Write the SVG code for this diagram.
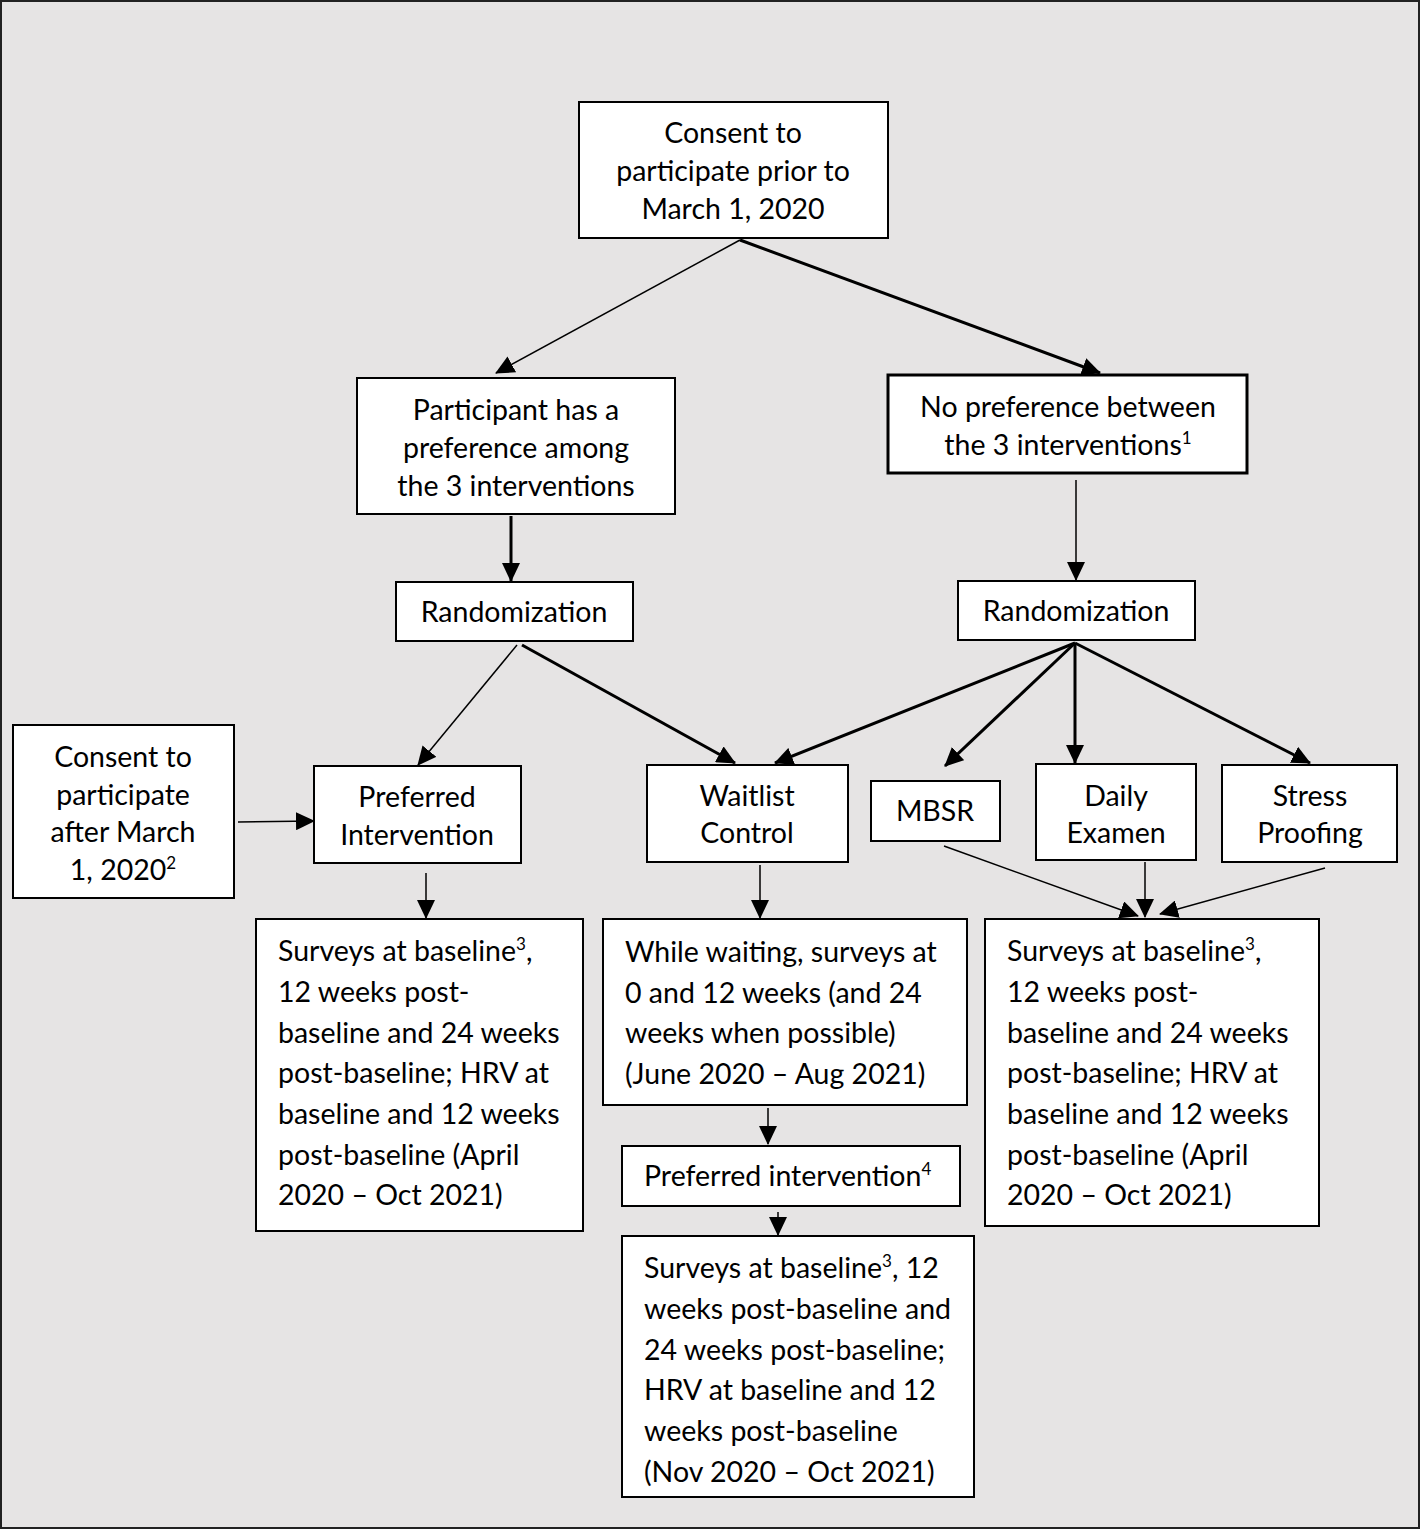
<svg xmlns="http://www.w3.org/2000/svg" width="1420" height="1529" viewBox="0 0 1420 1529">
<defs>
<marker id="ah" markerUnits="userSpaceOnUse" markerWidth="20" markerHeight="18" refX="18" refY="9" orient="auto">
<path d="M0,0 L19,9 L0,18 Z" fill="#000"/>
</marker>
</defs>
<style>
.box{fill:#fff;stroke:#000;stroke-width:2}
.thick{stroke-width:3}
text{font-family:Lato,"Open Sans","Liberation Sans",sans-serif;font-size:28.5px;fill:#000}
.c{text-anchor:middle}
.sup{font-size:17px}
.thin{stroke:#000;stroke-width:1.5;fill:none;marker-end:url(#ah)}
.bold{stroke:#000;stroke-width:3;fill:none;marker-end:url(#ah)}
</style>
<rect x="1" y="1" width="1418" height="1527" fill="#e6e4e4" stroke="#222" stroke-width="2"/>

<g id="connectors">
<line class="thin" x1="740" y1="240" x2="496" y2="373"/>
<line class="bold" x1="740" y1="240" x2="1100" y2="373"/>
<line class="bold" x1="511" y1="516" x2="511" y2="581"/>
<line class="thin" x1="1076" y1="480" x2="1076" y2="580"/>
<line class="thin" x1="517" y1="645" x2="418" y2="765"/>
<line class="bold" x1="522" y1="645" x2="735" y2="763"/>
<line class="bold" x1="1075" y1="643" x2="775" y2="763"/>
<line class="bold" x1="1075" y1="643" x2="945" y2="766"/>
<line class="bold" x1="1075" y1="643" x2="1075" y2="763"/>
<line class="bold" x1="1075" y1="643" x2="1310" y2="763"/>
<line class="thin" x1="238" y1="822" x2="314" y2="821"/>
<line class="thin" x1="426" y1="873" x2="426" y2="918"/>
<line class="thin" x1="760" y1="865" x2="760" y2="918"/>
<line class="thin" x1="944" y1="846" x2="1138" y2="916"/>
<line class="thin" x1="1145" y1="862" x2="1145" y2="917"/>
<line class="thin" x1="1325" y1="868" x2="1160" y2="914"/>
<line class="thin" x1="768" y1="1108" x2="768" y2="1144"/>
<line class="thin" x1="778" y1="1212" x2="778" y2="1235"/>
</g>

<g id="consent-prior">
<rect class="box" x="579" y="102" width="309" height="136"/>
<text class="c" x="733" y="143">Consent to</text>
<text class="c" x="733" y="181">participate prior to</text>
<text class="c" x="733" y="219">March 1, 2020</text>
</g>

<g id="has-preference">
<rect class="box" x="357" y="378" width="318" height="136"/>
<text class="c" x="516" y="420">Participant has a</text>
<text class="c" x="516" y="458">preference among</text>
<text class="c" x="516" y="496">the 3 interventions</text>
</g>

<g id="no-preference">
<rect class="box thick" x="888" y="375" width="359" height="98"/>
<text class="c" x="1068" y="417">No preference between</text>
<text class="c" x="1068" y="455">the 3 interventions<tspan class="sup" dy="-11">1</tspan></text>
</g>

<g id="rand-left">
<rect class="box" x="396" y="582" width="237" height="59"/>
<text class="c" x="514" y="622">Randomization</text>
</g>

<g id="rand-right">
<rect class="box" x="958" y="581" width="237" height="59"/>
<text class="c" x="1076" y="621">Randomization</text>
</g>

<g id="consent-after">
<rect class="box" x="13" y="725" width="221" height="173"/>
<text class="c" x="123" y="767">Consent to</text>
<text class="c" x="123" y="805">participate</text>
<text class="c" x="123" y="842">after March</text>
<text class="c" x="123" y="880">1, 2020<tspan class="sup" dy="-11">2</tspan></text>
</g>

<g id="preferred-intervention">
<rect class="box" x="314" y="766" width="207" height="97"/>
<text class="c" x="417" y="807">Preferred</text>
<text class="c" x="417" y="845">Intervention</text>
</g>

<g id="waitlist">
<rect class="box" x="647" y="765" width="201" height="97"/>
<text class="c" x="747" y="806">Waitlist</text>
<text class="c" x="747" y="843">Control</text>
</g>

<g id="mbsr">
<rect class="box" x="871" y="781" width="129" height="60"/>
<text class="c" x="935" y="821">MBSR</text>
</g>

<g id="daily-examen">
<rect class="box" x="1036" y="764" width="160" height="96"/>
<text class="c" x="1116" y="806">Daily</text>
<text class="c" x="1116" y="843">Examen</text>
</g>

<g id="stress-proofing">
<rect class="box" x="1222" y="765" width="175" height="97"/>
<text class="c" x="1310" y="806">Stress</text>
<text class="c" x="1310" y="843">Proofing</text>
</g>

<g id="surveys-left">
<rect class="box" x="256" y="919" width="327" height="312"/>
<text x="278" y="961">Surveys at baseline<tspan class="sup" dy="-11">3</tspan><tspan dy="11">,</tspan></text>
<text x="278" y="1002">12 weeks post-</text>
<text x="278" y="1043">baseline and 24 weeks</text>
<text x="278" y="1083">post-baseline; HRV at</text>
<text x="278" y="1124">baseline and 12 weeks</text>
<text x="278" y="1165">post-baseline (April</text>
<text x="278" y="1205">2020 – Oct 2021)</text>
</g>

<g id="while-waiting">
<rect class="box" x="603" y="919" width="364" height="186"/>
<text x="625" y="962">While waiting, surveys at</text>
<text x="625" y="1003">0 and 12 weeks (and 24</text>
<text x="625" y="1043">weeks when possible)</text>
<text x="625" y="1084">(June 2020 – Aug 2021)</text>
</g>

<g id="surveys-right">
<rect class="box" x="985" y="919" width="334" height="307"/>
<text x="1007" y="961">Surveys at baseline<tspan class="sup" dy="-11">3</tspan><tspan dy="11">,</tspan></text>
<text x="1007" y="1002">12 weeks post-</text>
<text x="1007" y="1043">baseline and 24 weeks</text>
<text x="1007" y="1083">post-baseline; HRV at</text>
<text x="1007" y="1124">baseline and 12 weeks</text>
<text x="1007" y="1165">post-baseline (April</text>
<text x="1007" y="1205">2020 – Oct 2021)</text>
</g>

<g id="preferred-intervention-4">
<rect class="box" x="622" y="1146" width="338" height="60"/>
<text x="644" y="1186">Preferred intervention<tspan class="sup" dy="-11">4</tspan></text>
</g>

<g id="surveys-bottom">
<rect class="box" x="622" y="1236" width="352" height="261"/>
<text x="644" y="1278">Surveys at baseline<tspan class="sup" dy="-11">3</tspan><tspan dy="11">, 12</tspan></text>
<text x="644" y="1319">weeks post-baseline and</text>
<text x="644" y="1360">24 weeks post-baseline;</text>
<text x="644" y="1400">HRV at baseline and 12</text>
<text x="644" y="1441">weeks post-baseline</text>
<text x="644" y="1482">(Nov 2020 – Oct 2021)</text>
</g>
</svg>
